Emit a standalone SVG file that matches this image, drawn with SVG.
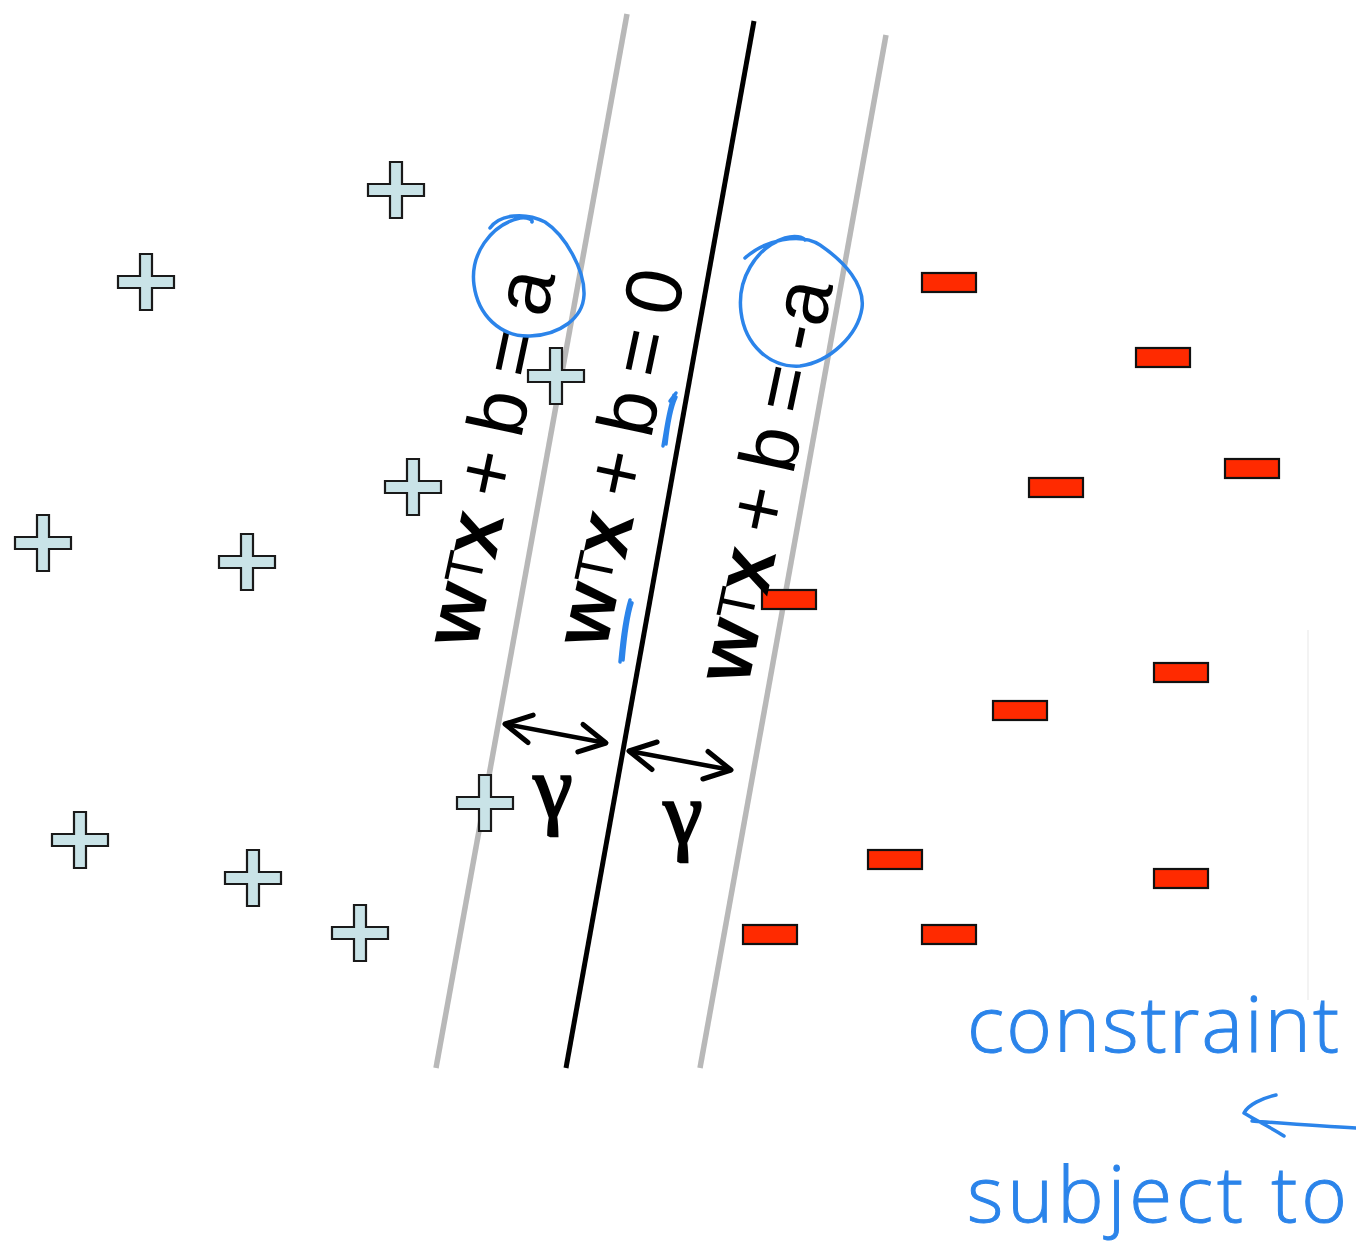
<svg xmlns="http://www.w3.org/2000/svg" width="1356" height="1252" viewBox="0 0 1356 1252">
  <style>
    .pos { fill: #c9e3e7; stroke: #1a1a1a; stroke-width: 2.2; }
    .neg { fill: #ff2a00; stroke: #111; stroke-width: 2.2; }
    .margin { stroke: #b8b8b8; stroke-width: 5.5; fill: none; }
    .sep { stroke: #000; stroke-width: 5; fill: none; }
    .lbl { font-family: "Liberation Sans", Arial, sans-serif; font-size: 80px; fill: #000; word-spacing: -6px; }
    .lbl .b { font-weight: bold; }
    .lbl .sup { font-size: 52px; }
    .gamma { font-family: "Liberation Serif", "DejaVu Serif", serif; font-size: 88px; fill: #000; stroke: #000; stroke-width: 2.5; text-anchor: middle; }
    .dim { stroke: #000; stroke-width: 4.5; fill: none; marker-start: url(#chev); marker-end: url(#chev); }
    .ink { stroke: #2b84ea; stroke-width: 3.5; fill: none; stroke-linecap: round; stroke-linejoin: round; }
    .hand { font-family: "Open Sans", "DejaVu Sans", sans-serif; font-weight: 300; font-size: 78px; fill: #2b84ea; stroke: #2b84ea; stroke-width: 1; }
  </style>
  <defs>
    <path id="plus" d="M-6,-28 h12 v22 h22 v12 h-22 v22 h-12 v-22 h-22 v-12 h22 z"/>
    <marker id="chev" markerUnits="userSpaceOnUse" markerWidth="44" markerHeight="44" refX="0" refY="0" viewBox="-32 -22 44 44" orient="auto-start-reverse">
      <path d="M-26,-14 L0,0 L-26,14" stroke="#000" stroke-width="5" fill="none" stroke-linecap="round" stroke-linejoin="round"/>
    </marker>
  </defs>

  <rect width="1356" height="1252" fill="#fff"/>

  <!-- faint panel edge -->
  <line x1="1308" y1="630" x2="1308" y2="1000" stroke="#efefef" stroke-width="1.5"/>

  <!-- hyperplanes -->
  <g id="hyperplanes">
    <line class="margin" x1="627" y1="14" x2="436" y2="1068"/>
    <line class="sep" x1="754" y1="21" x2="566" y2="1068"/>
    <line class="margin" x1="886" y1="35" x2="700" y2="1068"/>
  </g>

  <!-- positive class samples -->
  <g id="positives">
    <use href="#plus" class="pos" x="396" y="190"/>
    <use href="#plus" class="pos" x="146" y="282"/>
    <use href="#plus" class="pos" x="556" y="376"/>
    <use href="#plus" class="pos" x="413" y="487"/>
    <use href="#plus" class="pos" x="43" y="543"/>
    <use href="#plus" class="pos" x="247" y="562"/>
    <use href="#plus" class="pos" x="485" y="803"/>
    <use href="#plus" class="pos" x="80" y="840"/>
    <use href="#plus" class="pos" x="253" y="878"/>
    <use href="#plus" class="pos" x="360" y="933"/>
  </g>

  <!-- negative class samples -->
  <g id="negatives">
    <rect class="neg" x="922" y="273" width="54" height="19"/>
    <rect class="neg" x="1136" y="348" width="54" height="19"/>
    <rect class="neg" x="1029" y="478" width="54" height="19"/>
    <rect class="neg" x="1225" y="459" width="54" height="19"/>
    <rect class="neg" x="762" y="590" width="54" height="19"/>
    <rect class="neg" x="1154" y="663" width="54" height="19"/>
    <rect class="neg" x="993" y="701" width="54" height="19"/>
    <rect class="neg" x="868" y="850" width="54" height="19"/>
    <rect class="neg" x="1154" y="869" width="54" height="19"/>
    <rect class="neg" x="743" y="925" width="54" height="19"/>
    <rect class="neg" x="922" y="925" width="54" height="19"/>
  </g>

  <!-- hyperplane equations -->
  <g id="labels">
    <text class="lbl" transform="translate(476,650) rotate(-78)"><tspan class="b">w</tspan><tspan class="sup" dy="-10">T</tspan><tspan class="b" dx="-3" dy="10">x</tspan> + b = a</text>
    <text class="lbl" transform="translate(606,650) rotate(-78)"><tspan class="b">w</tspan><tspan class="sup" dy="-10">T</tspan><tspan class="b" dx="-3" dy="10">x</tspan> + b = 0</text>
    <text class="lbl" transform="translate(748,686) rotate(-78)"><tspan class="b">w</tspan><tspan class="sup" dy="-10">T</tspan><tspan class="b" dx="-3" dy="10">x</tspan> + b = -a</text>
  </g>

  <!-- margin widths -->
  <g id="margins">
    <line class="dim" x1="505" y1="724" x2="606" y2="743"/>
    <line class="dim" x1="629" y1="751" x2="731" y2="770"/>
    <text class="gamma" x="553" y="817">γ</text>
    <text class="gamma" x="683" y="843">γ</text>
  </g>

  <!-- pen annotations -->
  <g id="annotations">
    <path class="ink" d="M490,228 C500,214 525,212 545,222 C565,235 585,270 584,295 C583,318 560,335 530,336 C500,337 478,315 474,285 C470,255 490,225 520,218 C528,217 533,220 532,222"/>
    <path class="ink" d="M745,258 C765,240 800,232 820,245 C845,262 865,285 862,308 C858,335 830,362 800,366 C770,368 745,345 741,312 C737,280 755,248 785,238 C795,235 803,237 805,240"/>
    <path class="ink" stroke-width="3" d="M663,446 C666,430 668,410 674,395 M666,444 C668,425 671,408 676,397 M670,401 L676,393"/>
    <path class="ink" stroke-width="3" d="M620,662 C622,640 624,620 630,600 M623,660 C625,638 627,618 632,603"/>
    <text class="hand" x="967" y="1052" textLength="372" lengthAdjust="spacing">constraint</text>
    <path class="ink" stroke-width="4.5" d="M1356,1128 C1320,1126 1280,1123 1252,1121 M1276,1095 C1262,1098 1248,1105 1244,1113 C1255,1120 1272,1128 1284,1136"/>
    <text class="hand" x="967" y="1222" textLength="380" lengthAdjust="spacing">subject to</text>
  </g>
</svg>
